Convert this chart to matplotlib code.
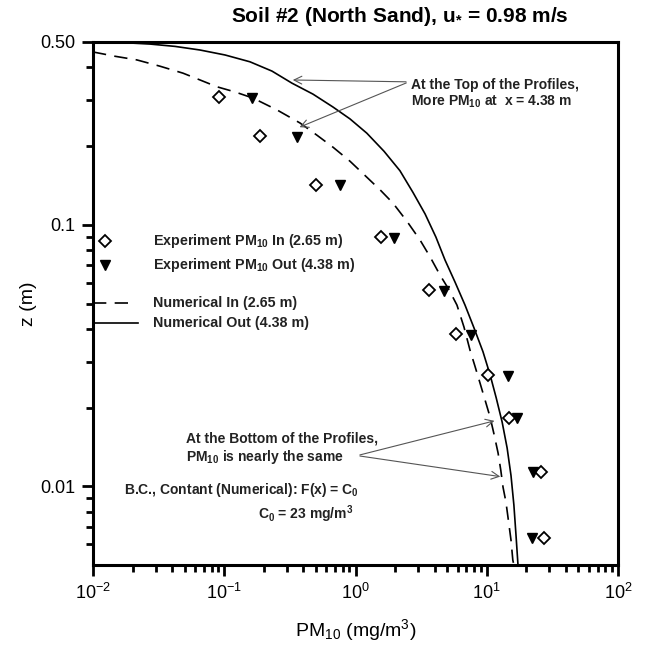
import matplotlib
matplotlib.use("Agg")
import matplotlib.pyplot as plt
from matplotlib.ticker import FixedLocator, FixedFormatter, NullFormatter

plt.rcParams['font.family'] = ['Liberation Sans', 'DejaVu Sans']
plt.rcParams['mathtext.fontset'] = 'custom'
plt.rcParams['mathtext.rm'] = 'Liberation Sans'
plt.rcParams['mathtext.it'] = 'Liberation Sans:italic'
plt.rcParams['mathtext.bf'] = 'Liberation Sans:bold'

exp_in_x = [0.091, 0.187, 0.50, 1.56, 3.63, 5.83, 10.2, 14.8, 25.9, 27.3]
exp_in_z = [0.308, 0.219, 0.142, 0.0897, 0.0564, 0.0382, 0.0267, 0.0182, 0.01135, 0.00634]
exp_out_x = [0.163, 0.358, 0.762, 1.96, 4.72, 7.59, 14.5, 17.0, 22.5, 22.1]
exp_out_z = [0.306, 0.217, 0.142, 0.089, 0.056, 0.038, 0.0265, 0.0182, 0.01135, 0.00634]

# Numerical profiles
num_in_x = [0.0100, 0.0147, 0.0216, 0.0324, 0.0485, 0.0653, 0.0881, 0.121, 0.166, 0.252,
            0.378, 0.509, 0.674, 0.908, 1.22, 1.54, 1.93, 2.47, 3.10, 3.70,
            4.40, 5.16, 5.93, 6.71, 7.45, 8.13, 8.89, 9.70, 10.6, 11.4,
            12.2, 12.8, 13.3, 14.0, 14.5, 15.3, 15.8, 16.1]
num_in_z = [0.458, 0.441, 0.427, 0.404, 0.380, 0.358, 0.337, 0.322, 0.305, 0.275,
            0.245, 0.220, 0.198, 0.175, 0.152, 0.136, 0.121, 0.103, 0.0875, 0.0754,
            0.0643, 0.0564, 0.0493, 0.0406, 0.0332, 0.0288, 0.0248, 0.0214, 0.0184, 0.0157,
            0.0134, 0.0115, 0.00993, 0.00871, 0.00764, 0.00623, 0.00522, 0.005]
num_out_x = [0.0100, 0.0161, 0.0272, 0.0422, 0.0653, 0.1014, 0.157, 0.231, 0.328, 0.474,
             0.674, 0.908, 1.22, 1.65, 2.18, 2.74, 3.39, 4.10, 4.81, 5.73,
             6.83, 8.00, 9.36, 10.6, 11.8, 13.1, 14.3, 15.3, 16.1, 16.7, 17.3]
num_out_z = [0.500, 0.498, 0.491, 0.481, 0.466, 0.446, 0.420, 0.387, 0.348, 0.316,
             0.282, 0.254, 0.224, 0.191, 0.161, 0.133, 0.110, 0.0897, 0.0733, 0.0604,
             0.0493, 0.0403, 0.0327, 0.0267, 0.0218, 0.0176, 0.0140, 0.0110, 0.00847, 0.00652, 0.005]

x_major = [0.01, 0.1, 1, 10, 100]
x_labels = [r'10$^{-2}$', r'10$^{-1}$', r'10$^{0}$', r'10$^{1}$', r'10$^{2}$']
y_major = [0.01, 0.1, 0.5]
y_labels = ['0.01', '0.1', '0.50']

W, H = 645, 648
fig = plt.figure(figsize=(W / 100, H / 100), dpi=100)
L, R, T, B = 93, 618, 42, 565
ax = fig.add_axes([L / W, 1 - B / H, (R - L) / W, (B - T) / H])
ax.set_xscale('log')
ax.set_yscale('log')
ax.set_xlim(0.01, 100)
ax.set_ylim(0.005, 0.5)

ax.plot(num_in_x, num_in_z, color='black', lw=1.2, dashes=(8, 5))
ax.plot(num_out_x, num_out_z, color='black', lw=1.2)
ax.plot(exp_in_x, exp_in_z, ls='none', marker='D', ms=6.4, mfc='white', mec='black', mew=1.3)
ax.plot(exp_out_x, exp_out_z, ls='none', marker='v', ms=7.5, mfc='black', mec='black')

for s in ax.spines.values():
    s.set_linewidth(2.2)
ax.xaxis.set_major_locator(FixedLocator(x_major))
ax.xaxis.set_major_formatter(FixedFormatter(x_labels))
xm = [m * d for d in [0.01, 0.1, 1, 10] for m in range(2, 10)]
ax.xaxis.set_minor_locator(FixedLocator(xm))
ax.xaxis.set_minor_formatter(NullFormatter())
ax.yaxis.set_major_locator(FixedLocator(y_major))
ax.yaxis.set_major_formatter(FixedFormatter(y_labels))
ym = [0.006, 0.007, 0.008, 0.009] + [m * 0.01 for m in range(2, 10)] + [0.2, 0.3, 0.4]
ax.yaxis.set_minor_locator(FixedLocator(ym))
ax.yaxis.set_minor_formatter(NullFormatter())
ax.tick_params(which='major', length=8, width=2, labelsize=13, pad=5)
ax.tick_params(which='minor', length=5, width=2)

ax.set_xlabel(r'PM$_{10}$ (mg/m$^3$)', fontsize=14, labelpad=10)
ax.set_ylabel('z (m)', fontsize=14, labelpad=2)
fig.text(400 / W, 1 - 16 / H, r'Soil #2 (North Sand), u$_\mathbf{*}$ = 0.98 m/s',
         ha='center', va='center', fontsize=15, fontweight='bold')

leg = dict(fontsize=10.3, fontweight='bold', color='#222222')
bold = dict(fontsize=10, fontweight='bold', color='#222222')
# legend-like labels
ax.plot([0.0123], [0.0867], ls='none', marker='D', ms=6.4,
        mfc='white', mec='black', mew=1.3, clip_on=False)
ax.plot([0.0123], [0.0701], ls='none', marker='v', ms=7.5, mfc='black', mec='black', clip_on=False)
ax.plot([0.0100, 0.0185], [0.0502, 0.0502], color='black', lw=1.2, dashes=(8, 5))
ax.plot([0.0100, 0.0220], [0.0421, 0.0421], color='black', lw=1.2)
ax.text(0.0286, 0.0867, r'Experiment PM$_{\mathbf{10}}$ In (2.65 m)', va='center', **leg)
ax.text(0.0286, 0.0701, r'Experiment PM$_\mathbf{10}$ Out (4.38 m)', va='center', **leg)
ax.text(0.0286, 0.0502, 'Numerical In (2.65 m)', va='center', **leg)
ax.text(0.0286, 0.0421, 'Numerical Out (4.38 m)', va='center', **leg)

# annotations
arr = dict(arrowstyle='->', color='#555555', lw=0.8, mutation_scale=14)
ax.text(2.65, 0.316, 'At the Top of the Profiles,\n' + r'More PM$_\mathbf{10}$ at  x = 4.38 m',
        va='center', ha='left', linespacing=1.15, **bold)
ax.annotate('', xy=(0.317, 0.358), xytext=(2.55, 0.352), arrowprops=arr)
ax.annotate('', xy=(0.358, 0.234), xytext=(2.55, 0.352), arrowprops=arr)

ax.text(0.0512, 0.0139, 'At the Bottom of the Profiles,\n' + r'PM$_\mathbf{10}$ is nearly the same',
        va='center', ha='left', linespacing=1.15, **bold)
ax.annotate('', xy=(12.0, 0.0179), xytext=(1.03, 0.0131), arrowprops=arr)
ax.annotate('', xy=(13.3, 0.01085), xytext=(1.03, 0.0131), arrowprops=arr)

ax.text(0.0172, 0.00968, r'B.C., Contant (Numerical): F(x) = C$_\mathbf{0}$', va='center', **bold)
ax.text(0.181, 0.00783, r'C$_\mathbf{0}$ = 23 mg/m$^\mathbf{3}$', va='center', **bold)

fig.savefig('out.png', dpi=100)
